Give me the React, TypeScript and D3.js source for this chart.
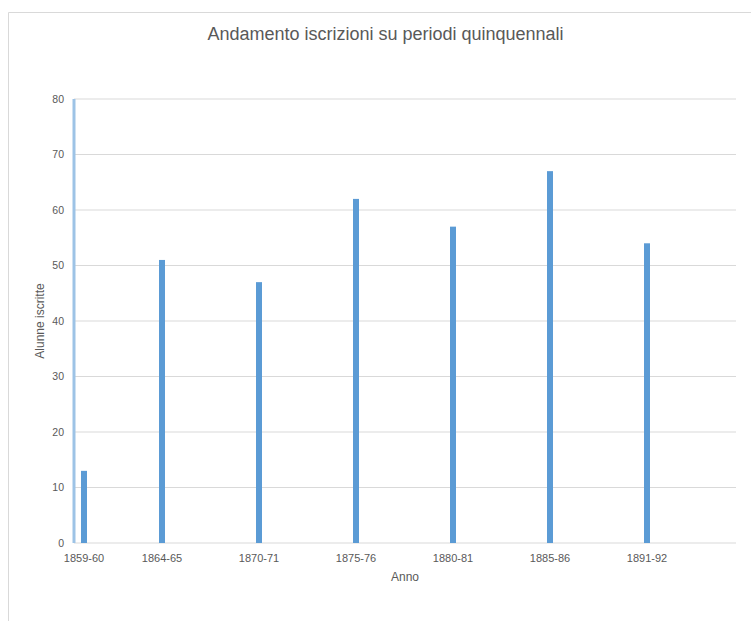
import React from "react";
import * as d3 from "d3";

const categories: string[] = ["1859-60", "1864-65", "1870-71", "1875-76", "1880-81", "1885-86", "1891-92"];
const iscritte: number[] = [13, 51, 47, 62, 57, 67, 54];
const yTicks: number[] = [0, 10, 20, 30, 40, 50, 60, 70, 80];
const titleText = "Andamento iscrizioni su periodi quinquennali";
const xTitle = "Anno";
const yTitle = "Alunne iscritte";

const W = 751;
const H = 621;
const plotLeft = 74;
const plotRight = 736;
const plotTop = 99;
const plotBottom = 543;
const font = "'Liberation Sans', Arial, sans-serif";
const textColor = "#595959";

export default function App() {
  const y = d3.scaleLinear().domain([0, 80]).range([plotBottom, plotTop]);
  const x = d3.scalePoint<string>().domain(categories).range([65, 647]);
  const barW = 6;
  const cx = (c: string) => Math.max(x(c) as number, plotLeft + 10);

  return (
    <svg
      width={W}
      height={H}
      style={{ position: "absolute", left: 0, top: 0, background: "#fff" }}
    >
      <rect x={0} y={0} width={W} height={H} fill="#fff" />
      <path d={`M8.5,${H} V12.5 H${W}`} fill="none" stroke="#d9d9d9" strokeWidth={1} />

      <text
        x={385.5}
        y={40}
        textAnchor="middle"
        fontFamily={font}
        fontSize={18}
        fill={textColor}
      >
        {titleText}
      </text>

      {yTicks.map((t) => (
        <line
          key={t}
          x1={plotLeft}
          x2={plotRight}
          y1={y(t)}
          y2={y(t)}
          stroke="#d9d9d9"
          strokeWidth={1}
        />
      ))}

      {yTicks.map((t) => (
        <text
          key={"l" + t}
          x={64}
          y={y(t)}
          dy="0.35em"
          textAnchor="end"
          fontFamily={font}
          fontSize={10.5}
          fill={textColor}
        >
          {t}
        </text>
      ))}

      <line
        x1={plotLeft}
        x2={plotLeft}
        y1={y(0)}
        y2={y(80)}
        stroke="#9dc3e6"
        strokeWidth={3}
      />

      {categories.map((c, i) => (
        <rect
          key={c}
          x={cx(c) - barW / 2}
          y={y(iscritte[i])}
          width={barW}
          height={y(0) - y(iscritte[i])}
          fill="#5b9bd5"
        />
      ))}

      {categories.map((c) => (
        <text
          key={"x" + c}
          x={cx(c)}
          y={562}
          textAnchor="middle"
          fontFamily={font}
          fontSize={11}
          fill={textColor}
        >
          {c}
        </text>
      ))}

      <text
        x={405}
        y={581}
        textAnchor="middle"
        fontFamily={font}
        fontSize={12}
        fill={textColor}
      >
        {xTitle}
      </text>

      <text
        transform={`translate(44, 321) rotate(-90)`}
        textAnchor="middle"
        fontFamily={font}
        fontSize={12}
        fill={textColor}
      >
        {yTitle}
      </text>
    </svg>
  );
}
